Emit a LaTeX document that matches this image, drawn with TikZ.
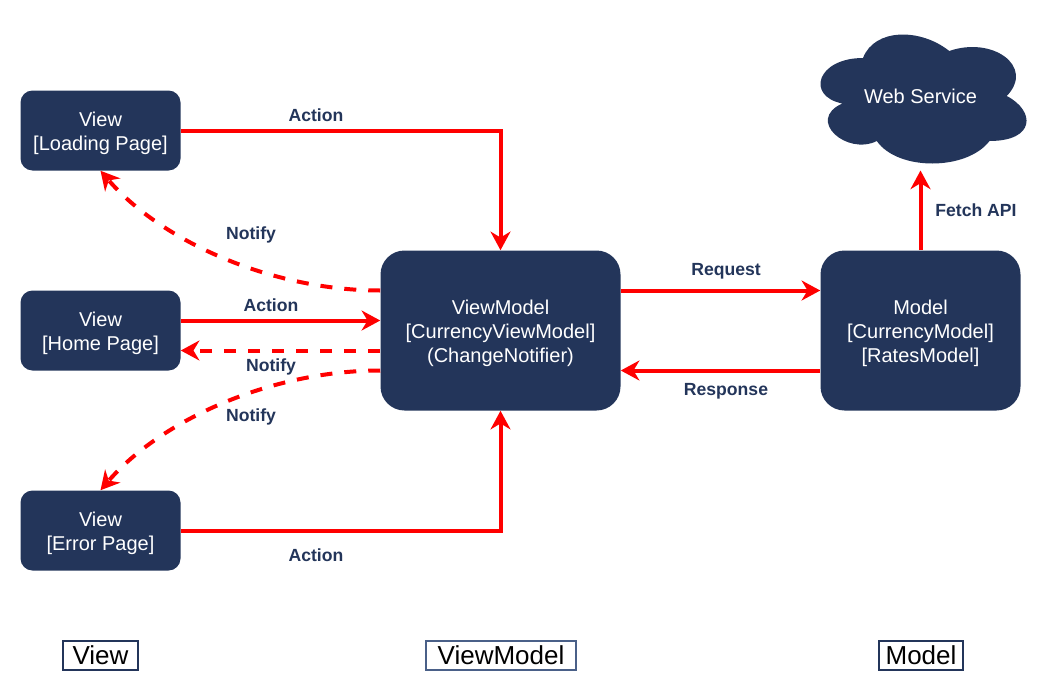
\documentclass[tikz,border=0pt]{standalone}
\usepackage{fontspec}
\setmainfont{Liberation Sans}
\usetikzlibrary{arrows.meta,calc}
\definecolor{navy}{HTML}{23355A}
\definecolor{legendblue}{HTML}{4A6088}
\tikzset{
  px/.style={x=0.75pt,y=-0.75pt},
  viewbox/.style={fill=navy,rounded corners=9pt,minimum width=120pt,minimum height=60pt,inner sep=0pt},
  bigbox/.style={fill=navy,rounded corners=18pt,minimum height=120pt,inner sep=0pt},
  boxtext/.style={text=white,align=center,font=\fontsize{15}{18}\selectfont,inner sep=0pt,yshift=-2.25pt},
  lbl/.style={text=navy,font=\fontsize{13.2}{15}\selectfont\bfseries,inner sep=0pt},
  legend/.style={draw=navy,line width=1.3pt,minimum height=22pt,inner sep=0pt,text=black,font=\fontsize{19.5}{22}\selectfont},
  link/.style={draw=red,line width=3pt,-{Stealth[length=14pt,width=15pt,inset=4.5pt]}},
  dlink/.style={link,dash pattern=on 9pt off 9pt}
}
\begin{document}
\begin{tikzpicture}[px]
\useasboundingbox (-0.5,-0.5) rectangle (1054.5,691.5);
\node[viewbox] (v1) at (100,130) {};
\node[viewbox] (v2) at (100,330) {};
\node[viewbox] (v3) at (100,530) {};
\node[bigbox,minimum width=180pt] (vm) at (500,330) {};
\node[bigbox,minimum width=150pt] (m) at (920,330) {};
\node[boxtext] (v1t) at (v1.center) {View\\{}[Loading Page]};
\node[boxtext] (v2t) at (v2.center) {View\\{}[Home Page]};
\node[boxtext] (v3t) at (v3.center) {View\\{}[Error Page]};
\node[boxtext] (vmt) at (vm.center) {ViewModel\\{}[CurrencyViewModel]\\(ChangeNotifier)};
\node[boxtext] (mt) at (m.center) {Model\\{}[CurrencyModel]\\{}[RatesModel]};
\fill[navy] (862.5,57.5) .. controls (816.5,57.5) and (805,95.5) .. (841.8,103)
  .. controls (805,119.5) and (846.4,155.5) .. (876.3,140.5)
  .. controls (897,170.5) and (966,170.5) .. (989,140.5)
  .. controls (1035,140.5) and (1035,110.5) .. (1006.25,95.5)
  .. controls (1035,65.5) and (991.3,35.5) .. (948.75,50.5)
  .. controls (920,27.5) and (874,27.5) .. (862.5,57.5) -- cycle;
\node[text=white,font=\fontsize{15}{18}\selectfont,inner sep=0pt] (ws) at (920,96) {Web Service};
\coordinate (wsb) at (920,170);
\coordinate (vm1) at ([yshift=30pt]vm.west);
\coordinate (vm2) at ([yshift=-15pt]vm.west);
\coordinate (vm3) at ([yshift=-30pt]vm.west);
\coordinate (vm0) at ([yshift=7.5pt]vm.west);
\draw[link] (v1.east) -| (vm.north);
\draw[link] (vm0 -| v2.east) -- (vm0);
\draw[link] (v3.east) -| (vm.south);
\draw[dlink] (vm2) -- (vm2 -| v2.east);
\draw[dlink] (vm1) .. controls (270,290) and (160,240) .. (v1.south);
\draw[dlink] (vm3) .. controls (270,370) and (160,420) .. (v3.north);
\draw[link] ([yshift=30pt]vm.east) -- ([yshift=30pt]m.west);
\draw[link] ([yshift=-30pt]m.west) -- ([yshift=-30pt]vm.east);
\draw[link] (m.north) -- (wsb);
\node[lbl] (a1) at (315.5,115) {Action};
\node[lbl] (a2) at (270.5,305) {Action};
\node[lbl] (a3) at (315.5,555) {Action};
\node[lbl] (n1) at (250.5,234) {Notify};
\node[lbl] (n2) at (270.5,366) {Notify};
\node[lbl] (n3) at (250.5,416) {Notify};
\node[lbl] (rq) at (725.5,271) {Request};
\node[lbl] (rs) at (725.5,391) {Response};
\node[lbl] (fa) at (975.5,210) {Fetch API};
\node[legend,minimum width=56pt] (l1) at (100,655) {View};
\node[legend,draw=legendblue,minimum width=112pt] (l2) at (500.5,655) {ViewModel};
\node[legend,minimum width=63pt] (l3) at (920.5,655) {Model};
\end{tikzpicture}
\end{document}
